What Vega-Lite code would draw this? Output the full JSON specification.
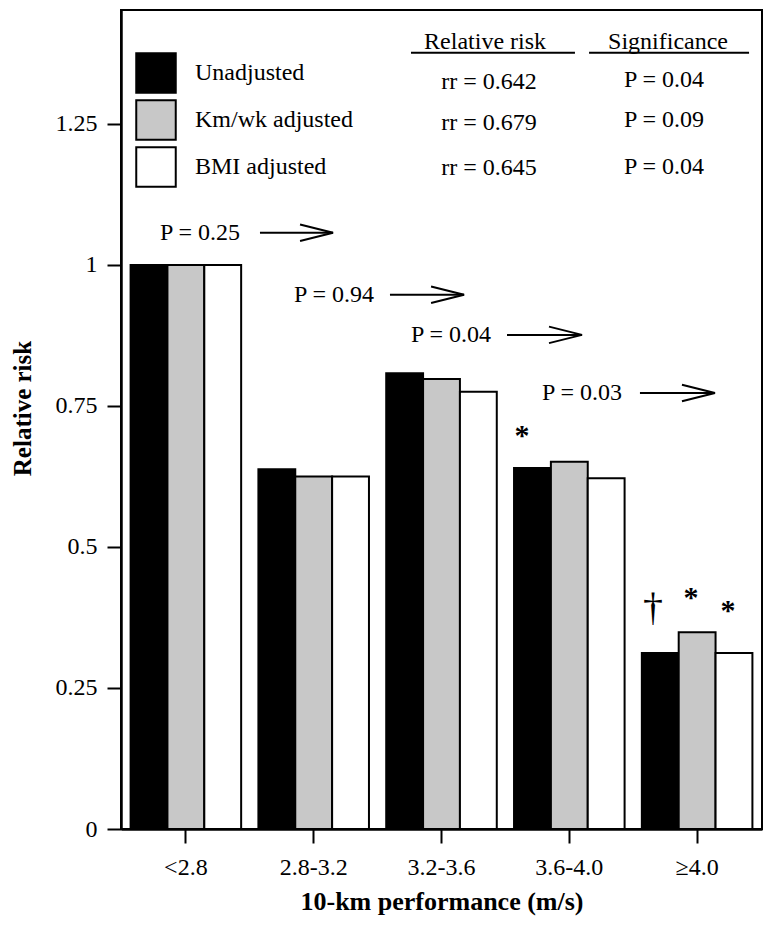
{
  "$schema": "https://vega.github.io/schema/vega-lite/v6.json",
  "width": 641,
  "height": 819,
  "autosize": {"type": "none"},
  "padding": {"left": 121, "top": 10, "right": 2, "bottom": 96},
  "background": "white",
  "config": {
    "font": "Liberation Serif, Times New Roman, DejaVu Serif, serif",
    "view": {"stroke": "black", "strokeWidth": 2},
    "axis": {"domainColor": "black", "domainWidth": 2.5, "tickColor": "black", "tickWidth": 2, "tickSize": 14, "labelColor": "black", "titleColor": "black", "grid": false, "labelFont": "Liberation Serif, Times New Roman, DejaVu Serif, serif", "titleFont": "Liberation Serif, Times New Roman, DejaVu Serif, serif"},
    "legend": {"labelFont": "Liberation Serif, Times New Roman, DejaVu Serif, serif"},
    "text": {"font": "Liberation Serif, Times New Roman, DejaVu Serif, serif", "color": "black"}
  },
  "datasets": {
    "bars": [
      {"group": "<2.8", "series": "Unadjusted", "rr": 1.0},
      {"group": "<2.8", "series": "Km/wk adjusted", "rr": 1.0},
      {"group": "<2.8", "series": "BMI adjusted", "rr": 1.0},
      {"group": "2.8-3.2", "series": "Unadjusted", "rr": 0.638},
      {"group": "2.8-3.2", "series": "Km/wk adjusted", "rr": 0.625},
      {"group": "2.8-3.2", "series": "BMI adjusted", "rr": 0.625},
      {"group": "3.2-3.6", "series": "Unadjusted", "rr": 0.808},
      {"group": "3.2-3.6", "series": "Km/wk adjusted", "rr": 0.798},
      {"group": "3.2-3.6", "series": "BMI adjusted", "rr": 0.775},
      {"group": "3.6-4.0", "series": "Unadjusted", "rr": 0.64},
      {"group": "3.6-4.0", "series": "Km/wk adjusted", "rr": 0.651},
      {"group": "3.6-4.0", "series": "BMI adjusted", "rr": 0.622},
      {"group": "≥4.0", "series": "Unadjusted", "rr": 0.312},
      {"group": "≥4.0", "series": "Km/wk adjusted", "rr": 0.349},
      {"group": "≥4.0", "series": "BMI adjusted", "rr": 0.312}
    ],
    "tableText": [
      {"u": 2.84, "v": 1.395, "label": "Relative risk"},
      {"u": 4.267, "v": 1.395, "label": "Significance"},
      {"u": 2.87, "v": 1.324, "label": "rr = 0.642"},
      {"u": 2.87, "v": 1.252, "label": "rr = 0.679"},
      {"u": 2.87, "v": 1.172, "label": "rr = 0.645"},
      {"u": 4.236, "v": 1.328, "label": "P = 0.04"},
      {"u": 4.236, "v": 1.257, "label": "P = 0.09"},
      {"u": 4.236, "v": 1.174, "label": "P = 0.04"}
    ],
    "trendText": [
      {"u": 0.304, "v": 1.057, "label": "P = 0.25"},
      {"u": 1.349, "v": 0.947, "label": "P = 0.94"},
      {"u": 2.262, "v": 0.876, "label": "P = 0.04"},
      {"u": 3.284, "v": 0.773, "label": "P = 0.03"}
    ],
    "underlines": [
      {"u": 2.262, "u2": 3.541, "v": 1.376},
      {"u": 3.651, "u2": 4.899, "v": 1.376}
    ],
    "arrows": [
      {"u": 1.084, "u2": 1.654, "v": 1.057},
      {"u": 2.098, "u2": 2.676, "v": 0.947},
      {"u": 3.011, "u2": 3.596, "v": 0.876},
      {"u": 4.048, "u2": 4.633, "v": 0.773}
    ],
    "marks": [
      {"u": 3.128, "v": 0.704, "label": "*"},
      {"u": 4.446, "v": 0.417, "label": "*"},
      {"u": 4.735, "v": 0.394, "label": "*"}
    ],
    "daggers": [
      {"u": 4.15, "v": 0.395, "label": "†"}
    ]
  },
  "layer": [
    {
      "data": {"name": "bars"},
      "mark": {"type": "bar", "stroke": "black", "strokeWidth": 2},
      "encoding": {
        "x": {
          "field": "group", "type": "nominal",
          "sort": ["<2.8", "2.8-3.2", "3.2-3.6", "3.6-4.0", "≥4.0"],
          "scale": {"paddingInner": 0.135, "paddingOuter": 0.075},
          "axis": {"title": "10-km performance (m/s)", "labelAngle": 0, "labelFontSize": 24, "labelPadding": 12, "titleFontSize": 26, "titleFontWeight": "bold", "titlePadding": 9}
        },
        "xOffset": {"field": "series", "type": "nominal", "sort": ["Unadjusted", "Km/wk adjusted", "BMI adjusted"], "scale": {"paddingInner": 0, "paddingOuter": 0}},
        "y": {
          "field": "rr", "type": "quantitative",
          "scale": {"domain": [0, 1.452], "nice": false, "zero": true},
          "axis": {"title": "Relative risk", "values": [0, 0.25, 0.5, 0.75, 1, 1.25], "format": "~g", "labelFontSize": 24, "labelPadding": 10, "titleFontSize": 25, "titleFontWeight": "bold", "titlePadding": 20, "titleY": 398}
        },
        "fill": {
          "field": "series", "type": "nominal",
          "scale": {"domain": ["Unadjusted", "Km/wk adjusted", "BMI adjusted"], "range": ["#000000", "#c8c8c8", "#ffffff"]},
          "legend": {"orient": "none", "legendX": 14, "legendY": 42, "title": null, "symbolType": "square", "symbolSize": 1560, "symbolStrokeColor": "black", "symbolStrokeWidth": 2, "symbolOpacity": 1, "labelFontSize": 24, "labelColor": "black", "labelOffset": 18, "rowPadding": -1, "padding": 0}
        }
      }
    },
    {
      "data": {"name": "tableText"},
      "mark": {"type": "text", "fontSize": 24, "align": "center", "baseline": "middle"},
      "encoding": {
        "x": {"field": "u", "type": "quantitative", "scale": {"domain": [0, 5], "nice": false, "zero": false}, "axis": null},
        "y": {"field": "v", "type": "quantitative"},
        "text": {"field": "label"}
      }
    },
    {
      "data": {"name": "trendText"},
      "mark": {"type": "text", "fontSize": 24, "align": "left", "baseline": "middle"},
      "encoding": {
        "x": {"field": "u", "type": "quantitative", "scale": {"domain": [0, 5], "nice": false, "zero": false}, "axis": null},
        "y": {"field": "v", "type": "quantitative"},
        "text": {"field": "label"}
      }
    },
    {
      "data": {"name": "underlines"},
      "mark": {"type": "rule", "stroke": "black", "strokeWidth": 2},
      "encoding": {
        "x": {"field": "u", "type": "quantitative", "scale": {"domain": [0, 5], "nice": false, "zero": false}, "axis": null},
        "x2": {"field": "u2"},
        "y": {"field": "v", "type": "quantitative"}
      }
    },
    {
      "data": {"name": "arrows"},
      "mark": {"type": "rule", "stroke": "black", "strokeWidth": 2},
      "encoding": {
        "x": {"field": "u", "type": "quantitative", "scale": {"domain": [0, 5], "nice": false, "zero": false}, "axis": null},
        "x2": {"field": "u2"},
        "y": {"field": "v", "type": "quantitative"}
      }
    },
    {
      "data": {"name": "arrows"},
      "mark": {"type": "point", "shape": "M -1 -0.25 L 0 0 L -1 0.25", "filled": false, "stroke": "black", "strokeWidth": 2, "size": 4356, "opacity": 1},
      "encoding": {
        "x": {"field": "u2", "type": "quantitative", "scale": {"domain": [0, 5], "nice": false, "zero": false}, "axis": null},
        "y": {"field": "v", "type": "quantitative"}
      }
    },
    {
      "data": {"name": "marks"},
      "mark": {"type": "text", "fontSize": 30, "fontWeight": "bold", "align": "center", "baseline": "middle", "dy": 4},
      "encoding": {
        "x": {"field": "u", "type": "quantitative", "scale": {"domain": [0, 5], "nice": false, "zero": false}, "axis": null},
        "y": {"field": "v", "type": "quantitative"},
        "text": {"field": "label"}
      }
    },
    {
      "data": {"name": "daggers"},
      "mark": {"type": "text", "fontSize": 40, "align": "center", "baseline": "middle", "dy": 2},
      "encoding": {
        "x": {"field": "u", "type": "quantitative", "scale": {"domain": [0, 5], "nice": false, "zero": false}, "axis": null},
        "y": {"field": "v", "type": "quantitative"},
        "text": {"field": "label"}
      }
    }
  ],
  "resolve": {"scale": {"x": "independent"}}
}
